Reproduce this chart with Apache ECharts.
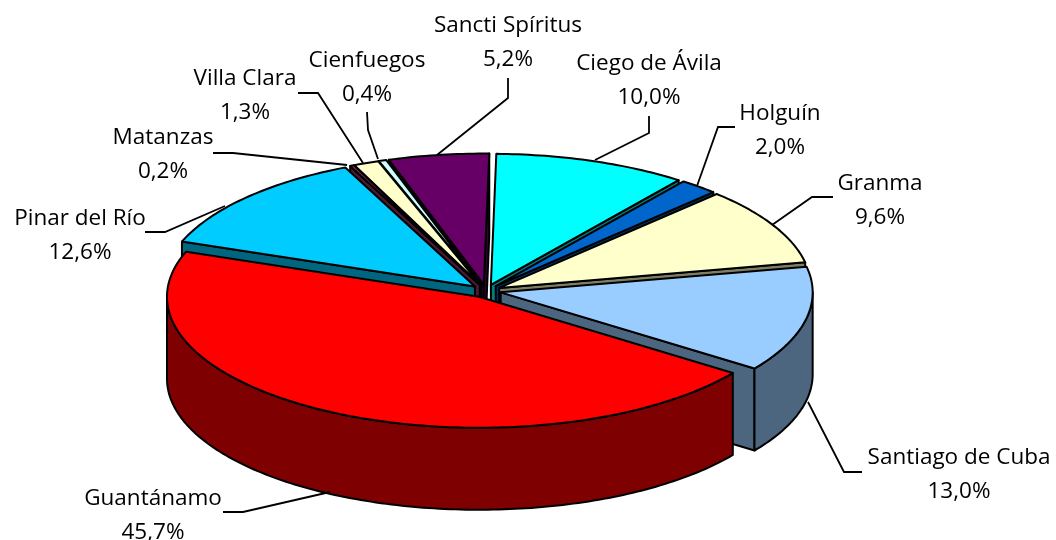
<!DOCTYPE html>
<html>
<head>
<meta charset="utf-8">
<style>html,body{margin:0;padding:0;background:#fff}#c{width:1056px;height:540px}</style>
<script src="https://cdn.jsdelivr.net/npm/echarts@6/dist/echarts.min.js"></script>
</head>
<body>
<div id="c"></div>
<script>
// Data, clockwise from the top of the pie
var categories = ['Ciego de Ávila','Holguín','Granma','Santiago de Cuba','Guantánamo','Pinar del Río','Matanzas','Villa Clara','Cienfuegos','Sancti Spíritus'];
var shares = [10.0,2.0,9.6,13.0,45.7,12.6,0.2,1.3,0.4,5.2];
var topColors = ['#00ffff','#0066cc','#ffffcc','#99ccff','#ff0000','#00ccff','#993366','#ffffcc','#ccffff','#660066'];
var sideColors = ['#007f7f','#003366','#7f7f66','#4c667f','#7f0000','#00667f','#4c1933','#7f7f66','#667f7f','#330033'];
// Label layout: text centre [x, y of first line], leader line points
var labelCentres = [[649,62],[780,112],[880,182],[959,456],[153,497],[80,217],[163,136],[245,77],[367,59],[508,24]];
var leaders = [
  [[649,116],[649,133],[595,160]],
  [[735,127],[718,127],[697,186]],
  [[833,197],[812,197],[772,225]],
  [[862,472],[844,472],[808,402]],
  [[223,512],[243,512],[330,492]],
  [[145,232],[165,232],[225,206]],
  [[213,153],[233,153],[347,165]],
  [[298,93],[318,93],[363,163]],
  [[367,112],[368,130],[378,159]],
  [[508,78],[508,98],[437,155]]
];
// Pie projection
var CX = 486, CY = 291, RX = 312, RY = 131, DEPTH = 82, EX = 15, EY = 6.5, ROT = 1;
var rad = Math.PI / 180;
var total = shares.reduce(function (a, b) { return a + b; }, 0);
var startPct = [], run = 0;
shares.forEach(function (s) { startPct.push(run); run += s; });

function pt(deg, o, dy) {
  return [CX + o[0] + RX * Math.sin(deg * rad), CY + o[1] + (dy || 0) - RY * Math.cos(deg * rad)];
}
function arc(a, b, o, dy) {
  var out = [], n = Math.max(2, Math.ceil(Math.abs(b - a)));
  for (var i = 0; i <= n; i++) out.push(pt(a + (b - a) * i / n, o, dy));
  return out;
}
function poly(points, fill) {
  return {type:'polygon', shape:{points:points}, style:{fill:fill, stroke:'#000', lineWidth:2, lineJoin:'round'}};
}
function renderSlice(params, api) {
  var idx = api.value(0), share = api.value(1), start = api.value(2);
  var a = start / total * 360 + ROT, b = (start + share) / total * 360 + ROT, m = (a + b) / 2;
  var o = [EX * Math.sin(m * rad), -EY * Math.cos(m * rad)];
  var apex = [CX + o[0], CY + o[1]], side = sideColors[idx], kids = [];
  function face(deg) {
    var e = pt(deg, o);
    kids.push(poly([apex, e, [e[0], e[1] + DEPTH], [apex[0], apex[1] + DEPTH]], side));
  }
  if (Math.sin(a * rad) < 0) face(a);
  if (Math.sin(b * rad) > 0) face(b);
  var w0 = Math.max(a, 90), w1 = Math.min(b, 270);
  if (w1 > w0) kids.push(poly(arc(w0, w1, o, 0).concat(arc(w1, w0, o, DEPTH)), side));
  kids.push(poly([apex].concat(arc(a, b, o, 0)), topColors[idx]));
  return {type:'group', children:kids};
}
function renderLabel(params, api) {
  var i = api.value(0), c = labelCentres[i];
  return {type:'group', children:[
    {type:'polyline', shape:{points:leaders[i]}, style:{fill:null, stroke:'#000', lineWidth:1.8}},
    {type:'text', style:{x:c[0], y:c[1]-15, text:categories[i] + '\n' + shares[i].toFixed(1).replace('.', ',') + '%',
      align:'center', verticalAlign:'top', fontFamily:'"Open Sans"', fontSize:22.5, lineHeight:34, fill:'#000'}}
  ]};
}
// Back-to-front painting order
var mid = function (i) { return (startPct[i] + shares[i] / 2) / total * 360 + ROT; };
var order = shares.map(function (_, i) { return i; }).sort(function (p, q) {
  return Math.cos(mid(q) * rad) - Math.cos(mid(p) * rad);
});
var chart = echarts.init(document.getElementById('c'), null, {renderer:'canvas'});
chart.setOption({
  animation:false,
  backgroundColor:'#fff',
  series:[
    {type:'custom', coordinateSystem:'none', silent:true, z:2, renderItem:renderSlice,
      data:order.map(function (i) { return {name:categories[i], value:[i, shares[i], startPct[i]]}; })},
    {type:'custom', coordinateSystem:'none', silent:true, z:3, renderItem:renderLabel,
      data:shares.map(function (s, i) { return {name:categories[i], value:[i, s]}; })}
  ]
});
</script>
</body>
</html>
